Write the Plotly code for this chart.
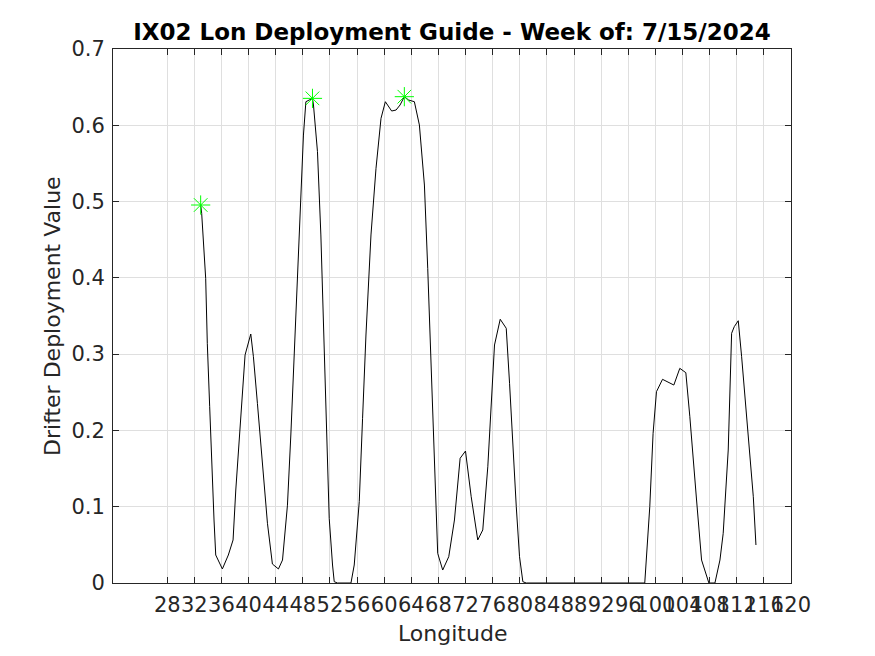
import plotly.graph_objects as go

# Longitude (deg) and deployment value
lon = [32.93, 33.08, 33.67, 33.91, 34.26, 34.56, 34.90, 35.15, 36.13, 37.01,
       37.71, 38.11, 38.59, 39.18, 39.48, 40.32, 40.71, 41.30, 41.80, 42.29,
       42.78, 43.51, 44.40, 45.00, 45.73, 46.23, 46.72, 47.21, 47.71, 48.09,
       48.45, 49.42, 49.57, 50.16, 50.66, 51.15, 51.55, 51.89, 52.38, 52.63,
       53.12, 55.10, 55.58, 56.07, 56.32, 56.81, 57.31, 58.05, 58.79, 59.53,
       60.17, 61.10, 61.75, 62.34, 62.97, 63.61, 64.45, 65.19, 65.93, 66.42,
       66.92, 67.41, 67.89, 68.63, 69.52, 70.36, 71.20, 71.99, 72.83, 73.80,
       74.54, 75.28, 75.78, 76.27, 77.11, 78.00, 78.49, 78.97, 79.48, 79.96,
       80.45, 80.95, 98.43, 99.17, 99.66, 100.16, 101.05, 102.72, 103.60, 104.49,
       105.08, 106.07, 106.81, 107.89, 108.78, 109.52, 110.00, 110.74, 111.24, 111.63,
       112.22, 112.72, 113.70, 114.44, 114.83]
value = [0.4955, 0.4846, 0.3994, 0.3142, 0.2311, 0.1524, 0.0826, 0.0367, 0.0184, 0.0367,
         0.0564, 0.1219, 0.1831, 0.2530, 0.2989, 0.3264, 0.2966, 0.2355, 0.1831, 0.1219,
         0.0783, 0.0249, 0.0184, 0.0301, 0.1020, 0.1940, 0.2945, 0.3994, 0.5086, 0.5872,
         0.6309, 0.6353, 0.6266, 0.5654, 0.4562, 0.2945, 0.1940, 0.0848, 0.0236, 0.0017,
         0.0, 0.0, 0.0236, 0.0848, 0.1066, 0.2159, 0.3251, 0.4562, 0.5436, 0.6091,
         0.6309, 0.6187, 0.6200, 0.6266, 0.6375, 0.6331, 0.6309, 0.6004, 0.5217, 0.4125,
         0.2814, 0.1504, 0.0389, 0.0170, 0.0345, 0.0826, 0.1635, 0.1730, 0.1131, 0.0564,
         0.0695, 0.1524, 0.2311, 0.3120, 0.3457, 0.3339, 0.2618, 0.1743, 0.1000, 0.0345,
         0.0017, 0.0, 0.0, 0.1000, 0.1962, 0.2508, 0.2670, 0.2595, 0.2814, 0.2757,
         0.2180, 0.1088, 0.0301, 0.0, 0.0, 0.0301, 0.0651, 0.1743, 0.3273, 0.3360,
         0.3438, 0.2966, 0.1962, 0.1131, 0.0498]

# Highlighted peaks (green asterisks)
peak_lon = [32.93, 49.42, 62.97]
peak_value = [0.4955, 0.6353, 0.6375]

x_ticks = [28, 32, 36, 40, 44, 48, 52, 56, 60, 64, 68, 72, 76, 80, 84, 88,
           92, 96, 100, 104, 108, 112, 116, 120]
y_ticks = [0, 0.1, 0.2, 0.3, 0.4, 0.5, 0.6, 0.7]
y_tick_labels = ["0", "0.1", "0.2", "0.3", "0.4", "0.5", "0.6", "0.7"]

FONT = "DejaVu Sans"
AX = "#262626"
GRID = "#dfdfdf"

# The page body adds an 8 px offset; figure is sized so the plot area
# lands at screen x 113..791, y 49..583.
OFF = 8
W, H = 875 - OFF, 656 - OFF
L, R, T, B = 113 - OFF, 84, 49 - OFF, 73
PW, PH = W - L - R, H - T - B


def px_x(sx):
    return (sx - OFF - L) / PW


def px_y(sy):
    return (H - B - (sy - OFF)) / PH


fig = go.Figure()
fig.add_trace(go.Scatter(x=lon, y=value, mode="lines",
                         line=dict(color="black", width=1), showlegend=False,
                         hoverinfo="skip"))
fig.add_trace(go.Scatter(x=peak_lon, y=peak_value, mode="markers",
                         marker=dict(symbol="asterisk-open", size=16,
                                     color="#00ff00",
                                     line=dict(color="#00ff00", width=1)),
                         showlegend=False))

fig.update_layout(
    width=W, height=H,
    margin=dict(l=L, r=R, t=T, b=B, autoexpand=False),
    paper_bgcolor="white", plot_bgcolor="white",
    font=dict(family=FONT, size=20, color=AX),
    title=dict(text="<b>IX02 Lon Deployment Guide - Week of: 7/15/2024</b>",
               x=(452 - OFF) / W, xanchor="center",
               y=1 - (32 - OFF) / H, yanchor="middle",
               font=dict(family=FONT, size=23, color="black")),
    annotations=[
        dict(text="Longitude", xref="paper", yref="paper",
             x=px_x(452), y=px_y(633), xanchor="center",
             yanchor="middle", showarrow=False,
             font=dict(family=FONT, size=22, color=AX)),
        dict(text="Drifter Deployment Value", xref="paper", yref="paper",
             x=px_x(52), y=px_y(316),
             xanchor="center", yanchor="middle", textangle=-90,
             showarrow=False, font=dict(family=FONT, size=22, color=AX)),
    ],
)
fig.update_xaxes(
    range=[20, 120], tickvals=x_ticks, ticktext=[str(t) for t in x_ticks],
    tickangle=0, automargin=False, ticklabelstandoff=3,
    showgrid=True, gridcolor=GRID, gridwidth=1, zeroline=False,
    showline=True, linecolor=AX, linewidth=1, mirror="ticks",
    ticks="inside", ticklen=6, tickcolor=AX,
    tickfont=dict(family=FONT, size=21, color=AX),
)
fig.update_yaxes(
    range=[0, 0.7], tickvals=y_ticks, ticktext=y_tick_labels,
    automargin=False, ticklabelstandoff=3,
    showgrid=True, gridcolor=GRID, gridwidth=1, zeroline=False,
    showline=True, linecolor=AX, linewidth=1, mirror="ticks",
    ticks="inside", ticklen=6, tickcolor=AX,
    tickfont=dict(family=FONT, size=21, color=AX),
)

fig.write_html("out.html")
